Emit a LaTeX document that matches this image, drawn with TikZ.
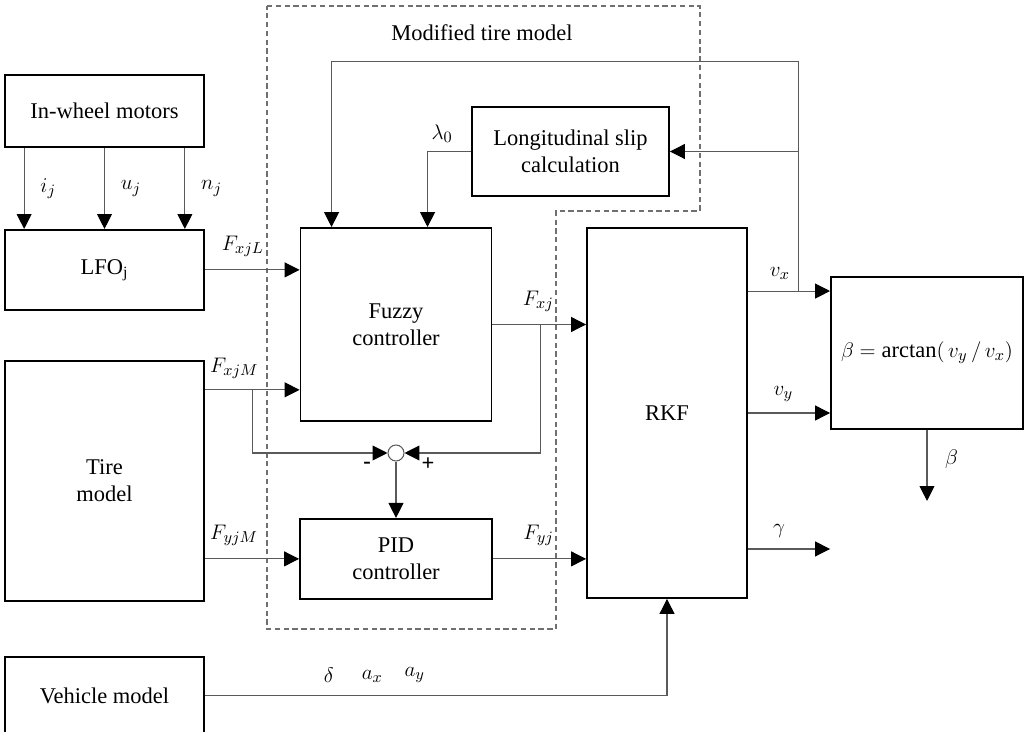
\documentclass[tikz,border=0pt]{standalone}
\usepackage{fontspec}
\setmainfont{Liberation Serif}
\usepackage{tikz}
\usetikzlibrary{arrows.meta, positioning, calc}
\definecolor{wire}{HTML}{5A5A5A}
\definecolor{frame}{HTML}{707070}

\begin{document}
\begin{tikzpicture}[x=0.02cm, y=-0.02cm,
    every node/.style={font=\fontsize{12.8}{15.3}\selectfont},
    blk/.style={draw, line width=1.1pt, inner sep=2pt, align=center},
    arr/.style={draw=wire, line width=0.6pt, -{Triangle[length=8.5pt,width=8.5pt,black]}},
    lbl/.style={inner sep=1pt}]
  \useasboundingbox (0,0) rectangle (1026,732);

  % left column
  \node[blk, minimum width=3.98cm, minimum height=1.44cm] (motors) at (104.5,111) {In-wheel motors};
  \node[blk, minimum width=3.98cm, minimum height=1.6cm, below=1.62cm of motors] (lfo) {LFO\textsubscript{j}};
  \node[blk, minimum width=3.98cm, minimum height=4.8cm, below=0.98cm of lfo] (tire) {Tire\\model};
  \node[blk, minimum width=3.98cm, minimum height=1.56cm, below=1.08cm of tire] (vehicle) {Vehicle model};

  % modified tire model
  \draw[frame, dashed, dash pattern=on 3pt off 2pt, line width=0.6pt]
    (267,6) -- (700,6) -- (700,211) -- (556,211) -- (556,629) -- (267,629) -- cycle;
  \node (modlbl) at (482,33) {Modified tire model};
  \node[blk, minimum width=3.82cm, minimum height=3.86cm] (fuzzy) at (396,324.5) {Fuzzy\\controller};
  \node[blk, minimum width=3.84cm, minimum height=1.6cm, below=1.92cm of fuzzy] (pid) {PID\\controller};
  \node[blk, minimum width=3.94cm, minimum height=1.78cm] (slip) at (570.5,151.5) {Longitudinal slip\\calculation};
  \node[circle, draw=wire, line width=0.6pt, minimum size=0.32cm, inner sep=0pt] (sum) at (396,453) {};
  \node[lbl] (minus) at ($(sum)+(-29,12)$) {\textbf{-}};
  \node[lbl] (plus) at ($(sum)+(32,11)$) {\textbf{+}};

  % right side
  \node[blk, minimum width=3.2cm, minimum height=7.4cm] (rkf) at (667,413) {RKF};
  \node[blk, minimum width=3.84cm, minimum height=3.04cm] (beta) at (927,353)
    {$\beta = \arctan\bigl(\,v_y \,/\, v_x\bigr)$};

  % connectors
  \foreach \f/\v in {0.1/i_j, 0.5/u_j, 0.9/n_j}
    \draw[arr] ($(motors.south west)!\f!(motors.south east)$) -- ($(lfo.north west)!\f!(lfo.north east)$)
      node[lbl, midway, right=8pt] {$\v$};
  \draw[arr] (lfo.east) -- node[lbl, pos=.4, above=6pt] {$F_{xjL}$} (lfo.east -| fuzzy.west);

  \coordinate (tx) at ([yshift=-0.6cm]tire.north east);
  \draw[arr] (tx) -- node[lbl, pos=.31, above=5pt] {$F_{xjM}$} coordinate[pos=.5] (fx) (tx -| fuzzy.west);
  \draw[arr] (fx) |- (sum.west);
  \draw[arr] (fuzzy.east) -- node[lbl, pos=.49, above=6pt] {$F_{xj}$} coordinate[pos=.51] (fo) (fuzzy.east -| rkf.west);
  \draw[arr] (fo) |- (sum.east);
  \draw[arr] (sum.south) -- (pid.north);
  \draw[arr] (tire.east |- pid.west) -- node[lbl, pos=.31, above=6pt] {$F_{yjM}$} (pid.west);
  \draw[arr] (pid.east) -- node[lbl, pos=.49, above=6pt] {$F_{yj}$} (pid.east -| rkf.west);
  \draw[arr] (slip.west) -| node[lbl, pos=.5, above right=4pt and 1pt] {$\lambda_0$}
    ([xshift=2.56cm]fuzzy.north west);

  \coordinate (vxin) at ([yshift=-0.3cm]beta.north west);
  \draw[arr] (rkf.east |- vxin) -- node[lbl, pos=.39, above=5pt] {$v_x$} coordinate[pos=.62] (vb) (vxin);
  \coordinate (fb) at ([xshift=0.64cm, yshift=3.32cm]fuzzy.north west);
  \draw[arr] (vb) |- (fb) -- (fb |- fuzzy.north);
  \draw[arr] (vb |- slip.east) -- (slip.east);
  \draw[arr] (rkf.east) -- node[lbl, pos=.43, above=5pt] {$v_y$} (rkf.east -| beta.west);
  \coordinate (gam) at ([yshift=-2.72cm]rkf.east);
  \coordinate (gend) at (gam -| beta.west);
  \draw[arr] (gam) -- node[lbl, pos=.38, above=5pt] {$\gamma$} (gend);
  \coordinate (bend) at ([yshift=-1.42cm]beta.south);
  \draw[arr] (beta.south) -- node[lbl, pos=.41, right=9pt] {$\beta$} (bend);

  \draw[arr] (vehicle.east) -| node[lbl, pos=.134, above=6pt] {$\delta$}
    node[lbl, pos=.181, above=6pt] {$a_x$} node[lbl, pos=.227, above=6pt] {$a_y$} (rkf.south);
\end{tikzpicture}
\end{document}
